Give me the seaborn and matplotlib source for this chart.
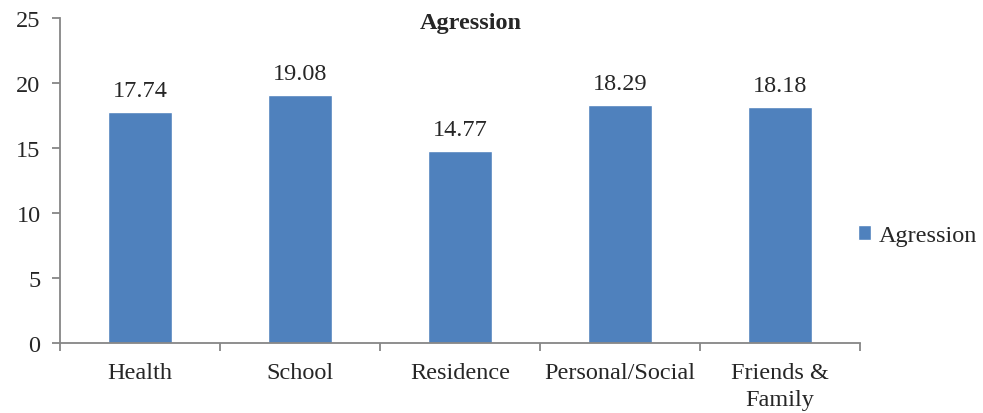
import numpy as np
import pandas as pd
import matplotlib.pyplot as plt
import seaborn as sns

categories = ['Health', 'School', 'Residence', 'Personal/Social', 'Friends &\nFamily']
values = [17.74, 19.08, 14.77, 18.29, 18.18]
series_name = 'Agression'
y_ticks = [0, 5, 10, 15, 20, 25]

sns.set_style('white')
plt.rcParams['font.family'] = ['Liberation Serif', 'DejaVu Serif']

df = pd.DataFrame({'Category': categories, 'Score': values, 'Series': series_name})

fig = plt.figure(figsize=(9.83, 4.14), dpi=100)
ax = fig.add_axes([60 / 983, 70 / 414, 800 / 983, 325 / 414])

sns.barplot(data=df, x='Category', y='Score', hue='Series', palette=['#4F81BD'],
            width=0.4, ax=ax, saturation=1, legend=True)

for c in ax.containers:
    ax.bar_label(c, fmt='%.2f', padding=8, fontsize=17.5)

ax.set_ylim(0, 25)
ax.set_yticks(y_ticks)
ax.set_xlim(-0.5, len(categories) - 0.5)
ax.set_xlabel('')
ax.set_ylabel('')

gray = '#868686'
for s in ['top', 'right']:
    ax.spines[s].set_visible(False)
for s in ['left', 'bottom']:
    ax.spines[s].set_color(gray)
    ax.spines[s].set_linewidth(1.3)

ax.tick_params(axis='y', which='major', length=6, width=1.3, color=gray, labelsize=17.5, pad=8, left=True)
ax.tick_params(axis='x', which='major', length=0, labelsize=17.5, pad=14)
for lbl in ax.get_xticklabels():
    lbl.set_linespacing(1.35)
ax.set_xticks(np.arange(-0.5, len(categories), 1.0), minor=True)
ax.tick_params(axis='x', which='minor', length=6, width=1.3, color=gray, bottom=True)

ax.text(0.514, 1.02, 'Agression', transform=ax.transAxes, ha='center', va='top',
        fontsize=17.5, fontweight='bold')

ax.legend(loc='center left', bbox_to_anchor=(0.985, 0.33), frameon=False, fontsize=17.5,
          handlelength=0.55, handleheight=0.55, handletextpad=0.3, borderaxespad=0)

fig.savefig('out.png', dpi=100)
